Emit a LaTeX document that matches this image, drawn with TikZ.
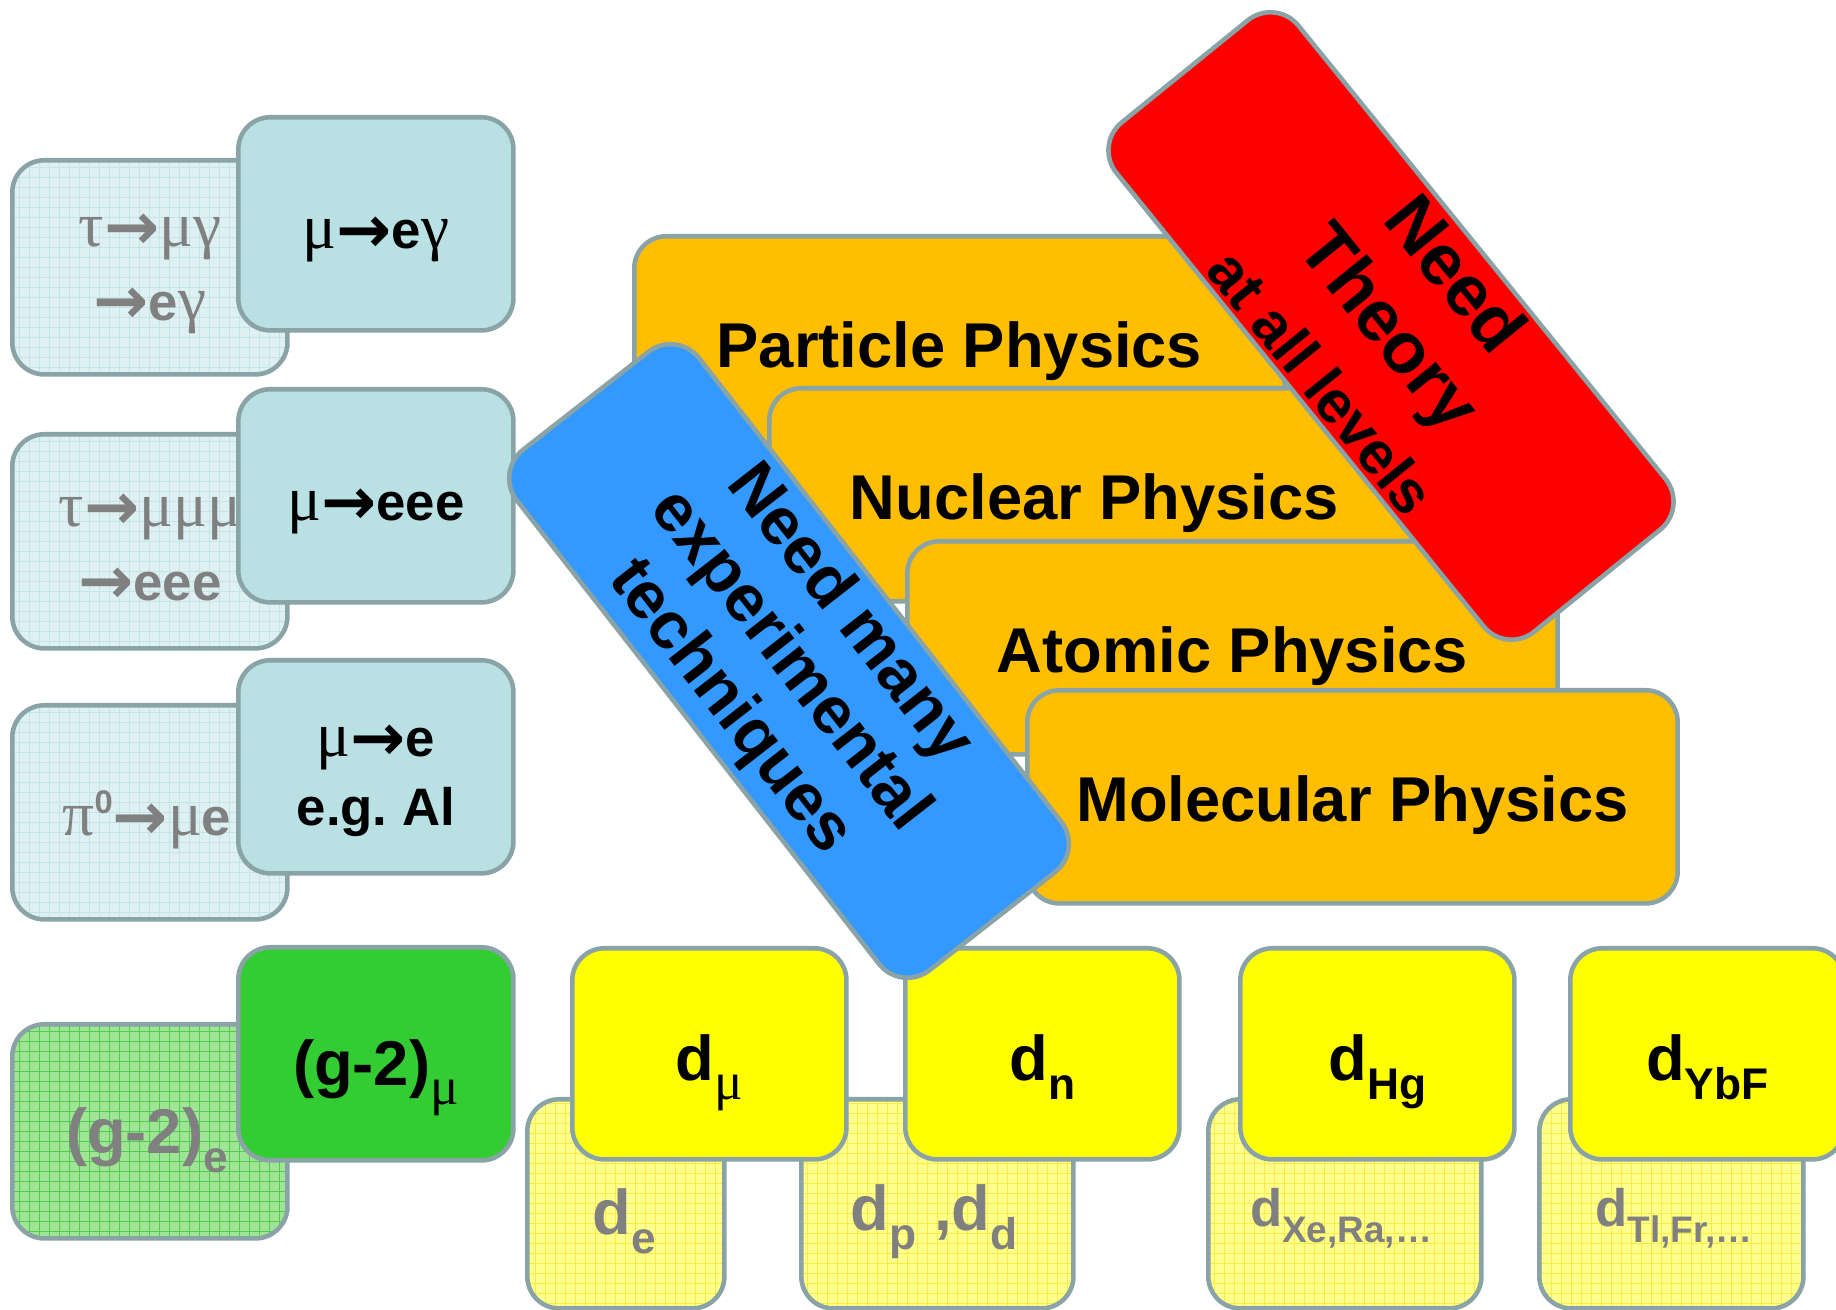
\documentclass[tikz,border=0pt]{standalone}
\usepackage{fontspec}
\usepackage{graphicx}
\setmainfont{Liberation Sans}
\newfontfamily\grkfont{Liberation Serif}
\newfontfamily\arrfont{DejaVu Sans}
\usetikzlibrary{positioning, calc}
\frenchspacing

\newcommand{\grkl}[1]{{\grkfont\mdseries\scalebox{1.2}{#1}}}
\newcommand{\toarr}{\raisebox{-0.07em}{\scalebox{1.25}{\arrfont\bfseries →}}}
\newcommand{\lsub}[1]{\raisebox{-0.3em}{\scalebox{0.7}{#1}}}
\newcommand{\lsup}[1]{\raisebox{0.42em}{\scalebox{0.62}{#1}}}

\definecolor{edgegray}{RGB}{137,163,166}
\definecolor{lepcyan}{RGB}{185,224,227}
\definecolor{lepcyanlt}{RGB}{222,240,241}
\definecolor{lepcyangrid}{RGB}{196,229,232}
\definecolor{gmgreen}{RGB}{51,204,51}
\definecolor{gmgreenlt}{RGB}{160,228,150}
\definecolor{gmgreengrid}{RGB}{80,205,80}
\definecolor{edmyellow}{RGB}{255,255,0}
\definecolor{edmyellowlt}{RGB}{255,255,140}
\definecolor{edmyellowgrid}{RGB}{250,235,70}
\definecolor{physorange}{RGB}{255,191,0}
\definecolor{expblue}{RGB}{51,153,255}
\definecolor{theored}{RGB}{255,0,0}
\definecolor{backtext}{RGB}{128,128,128}

\tikzset{
  tile/.style={draw=edgegray, line width=1.3pt, rounded corners=0.32cm, inner sep=0pt,
    align=center, anchor=north west},
  gridfill/.style={path picture={\draw[draw=#1, line width=0.3pt, step=0.1cm]
    (path picture bounding box.south west) grid (path picture bounding box.north east);}},
  lfvbase/.style={tile, fill=lepcyan, minimum width=2.75cm, minimum height=2.13cm,
    font=\bfseries\fontsize{15}{19.5}\selectfont},
  lfvfront/.style={lfvbase, text height=18pt, text depth=4pt},
  lfvback/.style={tile, fill=lepcyanlt, gridfill=lepcyangrid, minimum width=2.75cm, minimum height=2.14cm},
  gfront/.style={lfvbase, fill=gmgreen, font=\bfseries\fontsize{18}{21}\selectfont,
    text height=22pt, text depth=4pt},
  gback/.style={lfvback, fill=gmgreenlt, gridfill=gmgreengrid},
  edmfront/.style={tile, fill=edmyellow, minimum width=2.74cm, minimum height=2.11cm,
    font=\bfseries\fontsize{18}{21}\selectfont, text height=20pt, text depth=5pt},
  edmback/.style={tile, fill=edmyellowlt, gridfill=edmyellowgrid, minimum height=2.09cm},
  backlabel/.style={text=backtext, align=center, inner sep=0pt, font=\bfseries\fontsize{15}{21}\selectfont},
  physbox/.style={tile, fill=physorange, minimum width=6.5cm, minimum height=2.13cm,
    font=\bfseries\fontsize{18}{21}\selectfont, text height=19.5pt, text depth=5.5pt},
  tiltbox/.style={tile, anchor=center, rounded corners=0.36cm},
}

\begin{document}
\begin{tikzpicture}[x=0.01cm, y=-0.01cm]
  \useasboundingbox (0,0) rectangle (1836,1310);

  % lepton flavour column
  \node[lfvback] (taumg) at (10,158) {};
  \node[backlabel] (taumg-txt) at (150,274) {\grkl{τ}\toarr\grkl{μγ}\\\toarr e\grkl{γ}};
  \node[lfvfront] (mueg) at (236,115) {\grkl{μ}\toarr e\grkl{γ}};

  \node[lfvback] (taummm) at (10,432) {};
  \node[backlabel] (taummm-txt) at (150,549) {\grkl{τ}\toarr\grkl{μμμ}\\\toarr eee};
  \node[lfvfront] (mueee) at (236,387) {\grkl{μ}\toarr eee};

  \node[lfvback] (pimue) at (10,703) {};
  \node[backlabel] (pimue-txt) at (147,820) {\grkl{π}\lsup{0}\toarr\grkl{μ}e};
  \node[lfvbase] (mueconv) at (236,658) {\rule{0pt}{17pt}\grkl{μ}\toarr e\\e.g. Al};

  \node[gback] (gm2e) at (10,1022) {};
  \node[backlabel, font=\bfseries\fontsize{18}{21}\selectfont] (gm2e-txt) at (147,1140) {(g-2)\lsub{e}};
  \node[gfront] (gm2mu) at (236,945) {(g-2)\lsub{\grkl{μ}}};

  % physics levels
  \node[physbox] (part) at (632,234) {Particle Physics};
  \node[physbox] (nucl) at (767,386) {Nuclear Physics};
  \node[physbox] (atom) at (905,539) {Atomic Physics};
  \node[physbox] (mol) at (1025,688) {Molecular Physics};

  % EDM row
  \node[edmback, minimum width=1.97cm] (de) at (525,1097) {};
  \node[backlabel, font=\bfseries\fontsize{18}{21}\selectfont] (de-txt) at (624,1221) {d\lsub{e}};
  \node[edmback, minimum width=2.72cm] (dp) at (799,1097) {};
  \node[backlabel, font=\bfseries\fontsize{18}{21}\selectfont] (dp-txt) at (934,1222) {d\lsub{p} ,d\lsub{d}};
  \node[edmback, minimum width=2.73cm] (dxe) at (1206,1097) {};
  \node[backlabel, font=\bfseries\fontsize{15}{18}\selectfont] (dxe-txt) at (1341,1218) {d\lsub{Xe,Ra,…}};
  \node[edmback, minimum width=2.64cm] (dtl) at (1537,1097) {};
  \node[backlabel, font=\bfseries\fontsize{15}{18}\selectfont] (dtl-txt) at (1674,1218) {d\lsub{Tl,Fr,…}};

  \node[edmfront] (dmu) at (570,946) {d\lsub{\grkl{μ}}};
  \node[edmfront] (dn) at (903,946) {d\lsub{n}};
  \node[edmfront] (dhg) at (1238,946) {d\lsub{Hg}};
  \node[edmfront] (dybf) at (1568,946) {d\lsub{YbF}};

  % tilted banners
  \node[tiltbox, fill=expblue, rotate=-52, minimum width=6.6cm, minimum height=2.31cm,
    font=\bfseries\fontsize{19}{21.5}\selectfont] (exper) at (789,661)
    {Need many\\experimental\\techniques};
  \node[tiltbox, fill=theored, rotate=-51, minimum width=6.55cm, minimum height=2.34cm,
    font=\bfseries\fontsize{20.5}{24}\selectfont] (theo) at (1391,326)
    {Need\\Theory\\{\fontsize{17}{19}\selectfont at all levels}};
\end{tikzpicture}
\end{document}
